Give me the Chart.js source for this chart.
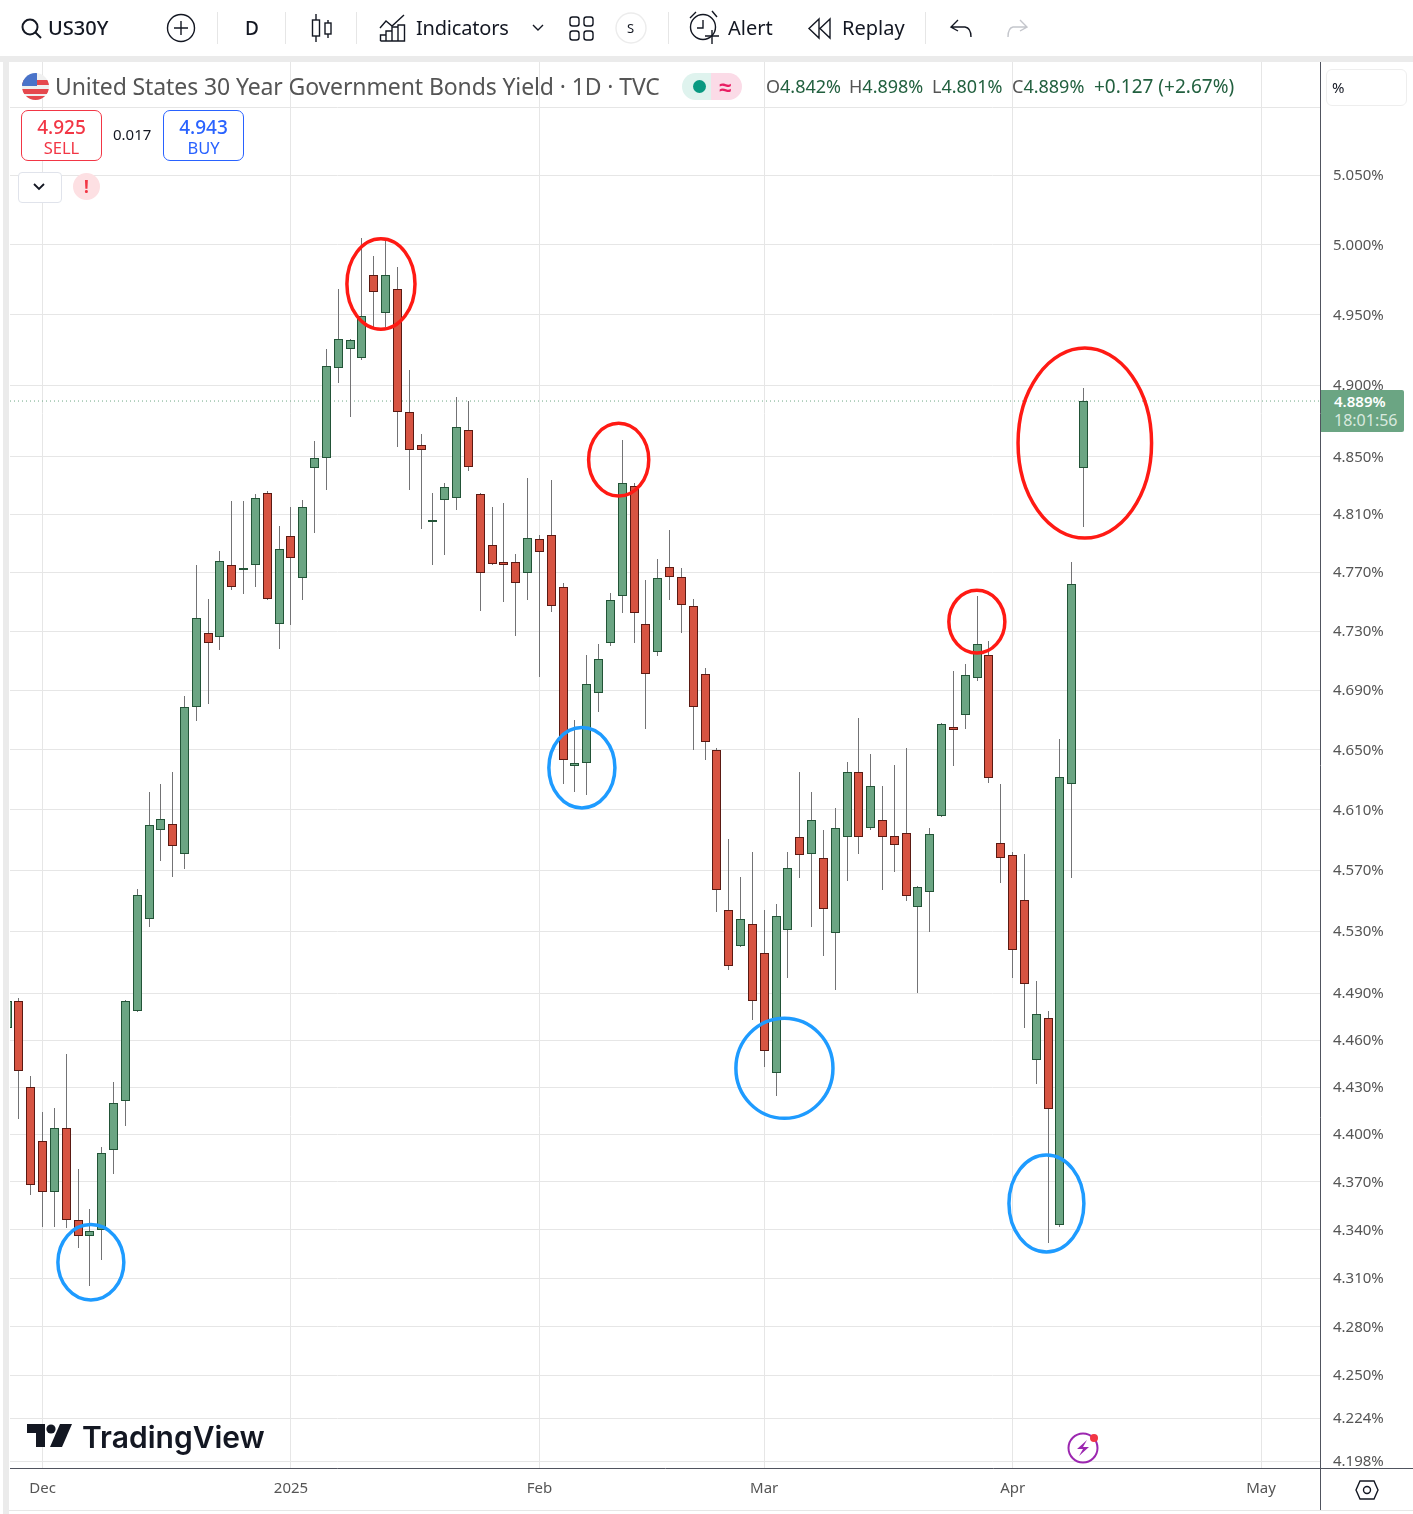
<!DOCTYPE html>
<html>
<head>
<meta charset="utf-8">
<title>US30Y</title>
<script src="https://cdn.jsdelivr.net/npm/chart.js@4"></script>
<style>
    html, body { margin: 0; padding: 0; background: #fff; }
    #page { position: relative; width: 1413px; height: 1514px; overflow: hidden; font-family: "Noto Sans", sans-serif; color: #131722; }
    #chart { position: absolute; left: 0; top: 0; }
    .abs { position: absolute; white-space: nowrap; }
    .bar { font-size: 20px; line-height: 28px; top: 14px; }
    .sep { position: absolute; top: 12px; width: 1px; height: 32px; background: #e6e6e6; }
    .ohlc { position: absolute; top: 72px; font-size: 18px; line-height: 28px; color: #22603f; white-space: nowrap; }
    .ohlc i { font-style: normal; color: #555; }
    svg { position: absolute; overflow: visible; }
</style>
</head>
<body>
<div id="page">
    <canvas id="chart" width="1413" height="1514"></canvas>

    <!-- frame around the chart pane -->
    <div class="abs" style="left:0;top:56px;width:1413px;height:6px;background:#ebebeb"></div>
    <div class="abs" style="left:3px;top:56px;width:6px;height:1458px;background:#ebebeb"></div>
    <div class="abs" style="left:1320px;top:1468px;width:1px;height:42px;background:#50535e"></div>
    <div class="abs" style="left:1320px;top:1468px;width:93px;height:1px;background:#50535e"></div>
    <div class="abs" style="left:9px;top:1510px;width:1404px;height:1px;background:#e6e6e6"></div>

    <!-- toolbar -->
    <svg style="left:0;top:0" width="1413" height="56" fill="none" stroke="#131722" stroke-width="1.4">
        <circle cx="30" cy="27" r="7.5" stroke-width="2"/><path d="M35.5 32.5 L41 38" stroke-width="2"/>
        <circle cx="181" cy="28" r="13.5"/><path d="M174 28H188M181 21V35"/>
        <path d="M316 14V42M328 20V38"/><rect x="312.5" y="20" width="7" height="16" fill="#fff"/><rect x="325" y="23" width="6" height="11" fill="#fff"/>
        <path d="M380 28L386 21L392 26L404 15"/>
        <path d="M380.5 41V35H386V41M386 41V31H392V41M392 41V27H398V41M398 41V25H404.5V41H380.5"/>
        <path d="M533 25L538 30L543 25"/>
        <rect x="570" y="17" width="9" height="9" rx="2.5"/><rect x="584" y="17" width="9" height="9" rx="2.5"/>
        <rect x="570" y="31" width="9" height="9" rx="2.5"/><rect x="584" y="31" width="9" height="9" rx="2.5"/>
        <circle cx="631" cy="28" r="15" stroke="#ececec"/>
        <circle cx="703" cy="27" r="12.5"/><path d="M703 20V28H697"/><path d="M690 18L696 12M712 11L717 17"/>
        <path d="M705 36H719M712 30V44" stroke="#131722"/>
        <path d="M819 19L809 28.5L819 38ZM830 19L820 28.5L830 38Z"/>
        <path d="M958 20L951 27L958 31M951 27H965Q971 28 971 37"/>
        <path d="M1020 20L1027 27L1020 31M1027 27H1013Q1008 28 1008 37" stroke="#c4c6cc"/>
    </svg>
    <div class="abs bar" style="left:48px;font-weight:500">US30Y</div>
    <div class="sep" style="left:217px"></div>
    <div class="abs bar" style="left:245px;font-weight:500;font-size:19px">D</div>
    <div class="sep" style="left:285px"></div>
    <div class="sep" style="left:356px"></div>
    <div class="abs bar" style="left:416px;letter-spacing:-0.2px">Indicators</div>
    <div class="abs" style="left:627px;top:20px;font-size:13px;line-height:16px">S</div>
    <div class="sep" style="left:668px"></div>
    <div class="abs bar" style="left:728px">Alert</div>
    <div class="abs bar" style="left:842px">Replay</div>
    <div class="sep" style="left:925px"></div>

    <!-- symbol legend -->
    <svg style="left:22px;top:73px" width="27" height="27">
        <clipPath id="flagClip"><circle cx="13.5" cy="13.5" r="13.5"/></clipPath>
        <g clip-path="url(#flagClip)">
            <rect width="27" height="27" fill="#f0f0f0"/>
            <rect y="7" width="27" height="5" fill="#e5484d"/><rect y="16" width="27" height="5" fill="#e5484d"/>
            <rect y="23" width="27" height="4" fill="#e5484d"/>
            <rect width="15" height="13" fill="#4a73c9"/>
        </g>
    </svg>
    <div class="abs" id="title" style="left:55px;top:69px;font-size:23px;line-height:34px;color:#555;letter-spacing:-0.11px">United States 30 Year Government Bonds Yield · 1D · TVC</div>
    <div class="abs" style="left:682px;top:73px;width:29px;height:27px;background:#dff3ee;border-radius:14px 0 0 14px"></div>
    <div class="abs" style="left:711px;top:73px;width:31px;height:27px;background:#fbdbe7;border-radius:0 14px 14px 0"></div>
    <div class="abs" style="left:693px;top:80px;width:13px;height:13px;background:#089981;border-radius:50%"></div>
    <div class="abs" style="left:719px;top:71px;font-size:22px;line-height:30px;font-weight:700;color:#e91e63">≈</div>
    <div class="ohlc" style="left:766px"><i>O</i>4.842%</div>
    <div class="ohlc" style="left:849px"><i>H</i>4.898%</div>
    <div class="ohlc" style="left:932px"><i>L</i>4.801%</div>
    <div class="ohlc" style="left:1012px"><i>C</i>4.889%</div>
    <div class="ohlc" style="left:1094px;font-size:19px">+0.127 (+2.67%)</div>

    <!-- sell / buy -->
    <div class="abs" style="left:21px;top:110px;width:79px;height:49px;border:1px solid #f23645;border-radius:7px;background:#fff;text-align:center;color:#f23645">
        <div style="font-size:19px;line-height:22px;margin-top:5px;font-weight:500">4.925</div><div style="font-size:16.5px;line-height:19px">SELL</div>
    </div>
    <div class="abs" style="left:113px;top:123px;font-size:15px;line-height:22px">0.017</div>
    <div class="abs" style="left:163px;top:110px;width:79px;height:49px;border:1px solid #2962ff;border-radius:7px;background:#fff;text-align:center;color:#2962ff">
        <div style="font-size:19px;line-height:22px;margin-top:5px;font-weight:500">4.943</div><div style="font-size:16.5px;line-height:19px">BUY</div>
    </div>
    <div class="abs" style="left:18px;top:172px;width:42px;height:29px;border:1px solid #e0e3eb;border-radius:4px;background:#fff"></div>
    <svg style="left:0;top:0" width="100" height="210" fill="none"><path d="M34 184L39 189L44 184" stroke="#131722" stroke-width="1.8"/></svg>
    <div class="abs" style="left:73px;top:173px;width:27px;height:27px;border-radius:50%;background:#fde0e3;text-align:center;color:#f23645;font-size:17px;line-height:27px;font-weight:700">!</div>

    <!-- scale mode box -->
    <div class="abs" style="left:1326px;top:69px;width:79px;height:35px;border:1px solid #eeeeee;border-radius:6px;background:#fff"></div>
    <div class="abs" style="left:1332px;top:77px;font-size:15px;line-height:20px">%</div>

    <!-- last price tag -->
    <div class="abs" style="left:1321px;top:390px;width:83px;height:42px;background:#6ba583;border-radius:0 2px 2px 0;color:#fff;font-size:15px;line-height:19px">
        <div style="margin:2px 0 0 13px;font-weight:600">4.889%</div><div style="margin-left:13px;color:#d9e9df;font-size:16px">18:01:56</div>
    </div>

    <!-- watermark and small icons -->
    <svg style="left:0;top:0" width="1413" height="1514" fill="none">
        <path d="M27 1424H45V1447H36V1433H27Z" fill="#131722"/><circle cx="51" cy="1429" r="4.6" fill="#131722"/>
        <path d="M60 1424H72L62 1447H50Z" fill="#131722"/>
        <circle cx="1083" cy="1448" r="14.5" stroke="#9c27b0" stroke-width="2"/>
        <path d="M1087 1440L1077 1449H1083L1079 1456L1089 1447H1083Z" fill="#9c27b0"/>
        <circle cx="1094" cy="1438" r="4" fill="#f23645"/>
        <path d="M1360 1481H1374L1378 1490L1374 1499H1360L1356 1490Z" stroke="#131722" stroke-width="1.4"/>
        <circle cx="1367" cy="1490" r="3.5" stroke="#131722" stroke-width="1.4"/>
    </svg>
    <div class="abs" style="left:82px;top:1416px;font-family:Inter,sans-serif;font-weight:600;font-size:30px;line-height:42px;color:#131722">TradingView</div>
</div>

<script>
// first entry is the candle cut off by the left edge of the pane
const opens = [4.468,
    4.485, 4.430, 4.396, 4.364, 4.404, 4.346, 4.336, 4.340, 4.390, 4.421,
    4.479, 4.538, 4.597, 4.601, 4.581, 4.679, 4.729, 4.726, 4.775, 4.772,
    4.775, 4.825, 4.735, 4.795, 4.766, 4.842, 4.849, 4.912, 4.926, 4.919,
    4.978, 4.951, 4.968, 4.881, 4.858, 4.805, 4.820, 4.821, 4.869, 4.824,
    4.789, 4.777, 4.777, 4.770, 4.793, 4.796, 4.760, 4.639, 4.641, 4.688,
    4.722, 4.754, 4.830, 4.735, 4.716, 4.774, 4.767, 4.747, 4.701, 4.650,
    4.544, 4.521, 4.535, 4.516, 4.439, 4.531, 4.592, 4.581, 4.578, 4.529,
    4.592, 4.635, 4.598, 4.603, 4.593, 4.595, 4.546, 4.556, 4.606, 4.665,
    4.673, 4.698, 4.714, 4.588, 4.580, 4.551, 4.447, 4.474, 4.343, 4.627, 4.842];
const highs = [4.486,
    4.487, 4.437, 4.414, 4.417, 4.451, 4.378, 4.353, 4.392, 4.433, 4.486,
    4.558, 4.622, 4.627, 4.635, 4.686, 4.775, 4.752, 4.785, 4.819, 4.819,
    4.824, 4.826, 4.802, 4.815, 4.820, 4.861, 4.926, 4.968, 4.933, 5.005,
    4.992, 5.004, 4.984, 4.911, 4.866, 4.825, 4.832, 4.892, 4.889, 4.825,
    4.815, 4.818, 4.783, 4.835, 4.796, 4.834, 4.763, 4.670, 4.714, 4.721,
    4.756, 4.862, 4.832, 4.765, 4.779, 4.799, 4.773, 4.752, 4.705, 4.651,
    4.591, 4.566, 4.582, 4.544, 4.548, 4.582, 4.635, 4.622, 4.597, 4.611,
    4.642, 4.671, 4.647, 4.626, 4.640, 4.651, 4.560, 4.598, 4.668, 4.703,
    4.708, 4.754, 4.723, 4.627, 4.582, 4.581, 4.498, 4.479, 4.657, 4.777, 4.898];
const lows = [4.465,
    4.410, 4.362, 4.342, 4.342, 4.341, 4.329, 4.305, 4.321, 4.375, 4.405,
    4.478, 4.533, 4.576, 4.566, 4.571, 4.669, 4.681, 4.717, 4.758, 4.755,
    4.760, 4.751, 4.718, 4.734, 4.751, 4.797, 4.827, 4.902, 4.878, 4.918,
    4.941, 4.941, 4.857, 4.827, 4.800, 4.775, 4.782, 4.813, 4.840, 4.744,
    4.775, 4.750, 4.727, 4.751, 4.699, 4.743, 4.627, 4.622, 4.620, 4.675,
    4.720, 4.742, 4.722, 4.664, 4.713, 4.751, 4.729, 4.650, 4.643, 4.543,
    4.505, 4.520, 4.473, 4.443, 4.424, 4.500, 4.565, 4.533, 4.514, 4.492,
    4.563, 4.581, 4.597, 4.557, 4.569, 4.550, 4.490, 4.530, 4.605, 4.639,
    4.664, 4.696, 4.628, 4.562, 4.500, 4.468, 4.432, 4.332, 4.342, 4.565, 4.801];
const closes = [4.485,
    4.440, 4.368, 4.364, 4.404, 4.346, 4.336, 4.339, 4.388, 4.420, 4.485,
    4.554, 4.600, 4.604, 4.586, 4.679, 4.739, 4.722, 4.778, 4.760, 4.773,
    4.821, 4.752, 4.786, 4.780, 4.815, 4.849, 4.914, 4.933, 4.932, 4.949,
    4.966, 4.978, 4.881, 4.855, 4.855, 4.806, 4.829, 4.871, 4.843, 4.770,
    4.776, 4.775, 4.763, 4.794, 4.784, 4.747, 4.643, 4.641, 4.694, 4.711,
    4.751, 4.832, 4.742, 4.701, 4.766, 4.767, 4.748, 4.679, 4.655, 4.557,
    4.508, 4.538, 4.485, 4.453, 4.540, 4.572, 4.580, 4.603, 4.545, 4.598,
    4.635, 4.592, 4.626, 4.592, 4.587, 4.553, 4.559, 4.594, 4.667, 4.663,
    4.700, 4.721, 4.631, 4.578, 4.518, 4.496, 4.477, 4.416, 4.632, 4.762, 4.889];

const priceTicks = [5.100, 5.050, 5.000, 4.950, 4.900, 4.850, 4.810, 4.770, 4.730, 4.690, 4.650, 4.610,
    4.570, 4.530, 4.490, 4.460, 4.430, 4.400, 4.370, 4.340, 4.310, 4.280, 4.250, 4.224, 4.198];
const monthTicks = [2, 23, 44, 63, 84, 105];
const monthLabels = ['Dec', '2025', 'Feb', 'Mar', 'Apr', 'May'];
const lastPrice = 4.889;

// hand drawn rings on the picture, in bar numbers and prices
const ringFromBar = [27.77, 48.2, 84.5, 78.65, 3.34, 44.84, 60.65, 83.73];
const ringToBar = [33.44, 53.2, 95.7, 83.3, 8.83, 50.34, 68.77, 89.98];
const ringTopPrice = [5.004, 4.873, 4.926, 4.7575, 4.343, 4.6646, 4.4737, 4.3866];
const ringBottomPrice = [4.940, 4.823, 4.794, 4.7154, 4.2968, 4.6116, 4.4105, 4.3266];
const ringColors = ['#ff1a14', '#ff1a14', '#ff1a14', '#ff1a14', '#1e9bff', '#1e9bff', '#1e9bff', '#1e9bff'];

const xMin = -0.75, xMax = 109.98;
const yMin = 4.1940, yMax = 5.1331;

const upFill = '#6ba583', downFill = '#d75442', upEdge = '#225437', downEdge = '#5b1a13';
const isUp = closes.map((c, i) => c >= opens[i]);

// keep candles on whole pixels so the wicks stay one pixel wide
const snapBars = {
    id: 'snapBars',
    beforeDatasetsDraw(chart) {
        chart.data.datasets.forEach(function(ds, idx) {
            if (ds.type === 'line') return;
            chart.getDatasetMeta(idx).data.forEach(function(el) {
                el.x = Math.floor(el.x) + 0.5;
                el.y = Math.round(el.y);
                el.base = Math.round(el.base);
                if (el.base === el.y) el.base = el.y + 1;
            });
        });
    }
};

const drawRings = {
    id: 'drawRings',
    afterDatasetsDraw(chart) {
        const ctx = chart.ctx, x = chart.scales.x, y = chart.scales.y;
        ringColors.forEach(function(color, i) {
            const left = x.getPixelForValue(ringFromBar[i]), right = x.getPixelForValue(ringToBar[i]);
            const top = y.getPixelForValue(ringTopPrice[i]), bottom = y.getPixelForValue(ringBottomPrice[i]);
            ctx.save();
            ctx.beginPath();
            ctx.ellipse((left + right) / 2, (top + bottom) / 2, (right - left) / 2 + 0.5, (bottom - top) / 2 + 0.5, 0, 0, Math.PI * 2);
            ctx.strokeStyle = color;
            ctx.lineWidth = 3.5;
            ctx.stroke();
            ctx.restore();
        });
    }
};

new Chart(document.getElementById('chart'), {
    type: 'bar',
    data: {
        datasets: [
            {
                label: 'Body',
                data: opens.map((o, i) => ({ x: i - 1, y: [o, closes[i]] })),
                backgroundColor: isUp.map(u => u ? upFill : downFill),
                borderColor: isUp.map(u => u ? upEdge : downEdge),
                borderWidth: 1,
                borderSkipped: false,
                barThickness: 9,
                inflateAmount: 0,
                grouped: false,
                order: 1
            },
            {
                label: 'Wick',
                data: lows.map((l, i) => ({ x: i - 1, y: [l, highs[i]] })),
                backgroundColor: '#737375',
                borderWidth: 0,
                barThickness: 1,
                inflateAmount: 0,
                grouped: false,
                order: 2
            },
            {
                type: 'line',
                label: 'Last',
                data: [{ x: xMin, y: lastPrice }, { x: xMax, y: lastPrice }],
                borderColor: '#6ba583',
                borderWidth: 1,
                borderDash: [1, 3],
                pointRadius: 0,
                order: 3
            }
        ]
    },
    options: {
        responsive: false,
        animation: false,
        events: [],
        layout: { autoPadding: false, padding: { left: 10, top: 62, right: 0, bottom: 0 } },
        plugins: { legend: { display: false }, tooltip: { enabled: false } },
        scales: {
            x: {
                type: 'linear',
                offset: false,
                min: xMin,
                max: xMax,
                afterBuildTicks: function(scale) {
                    scale.ticks = monthTicks.map(v => ({ value: v }));
                },
                afterFit: function(scale) { scale.height = 46; },
                grid: { color: '#e6e6e6', drawTicks: false, offset: false },
                border: { display: true, color: '#50535e' },
                ticks: {
                    autoSkip: false,
                    maxRotation: 0,
                    padding: 12,
                    color: '#555555',
                    font: { family: '"Noto Sans"', size: 15 },
                    callback: function(value) { return monthLabels[monthTicks.indexOf(value)]; }
                }
            },
            y: {
                type: 'logarithmic',
                position: 'right',
                min: yMin,
                max: yMax,
                afterBuildTicks: function(scale) {
                    scale.ticks = priceTicks.map(v => ({ value: v }));
                },
                afterFit: function(scale) { scale.width = 93; },
                grid: { color: '#e6e6e6', drawTicks: false },
                border: { display: true, color: '#50535e' },
                ticks: {
                    autoSkip: false,
                    padding: 13,
                    labelOffset: 0.5,
                    color: '#555555',
                    font: { family: '"Noto Sans"', size: 15 },
                    // the top line has no label, the scale box sits there
                    callback: function(value) { return value > 5.06 ? '' : value.toFixed(3) + '%'; }
                }
            }
        }
    },
    plugins: [snapBars, drawRings]
});
</script>
</body>
</html>
